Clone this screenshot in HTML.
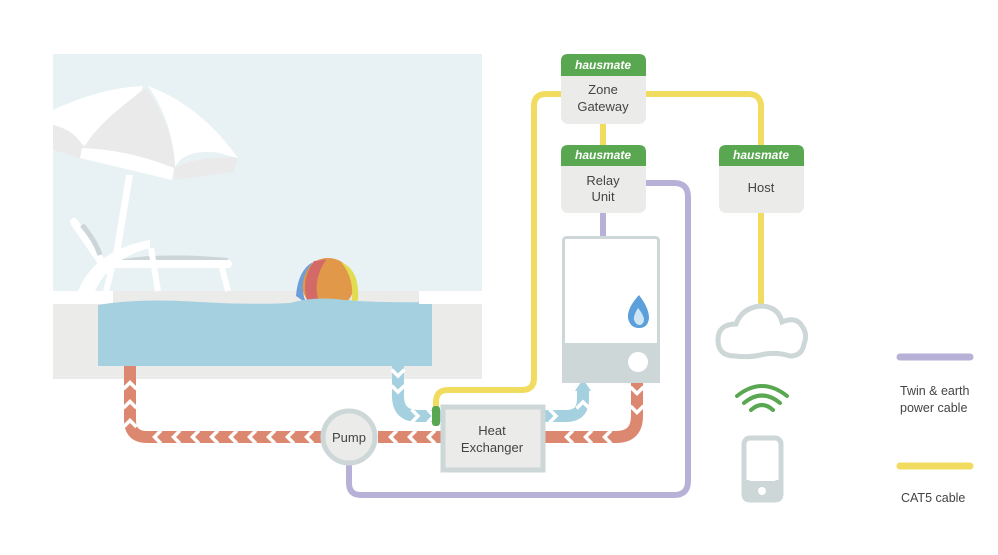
<!DOCTYPE html>
<html><head><meta charset="utf-8"><style>
html,body{margin:0;padding:0;background:#fff;}
svg{display:block;font-family:"Liberation Sans","DejaVu Sans",sans-serif;}
</style></head><body>
<svg id="s" width="998" height="555" viewBox="0 0 998 555" xmlns="http://www.w3.org/2000/svg">
<rect x="53" y="54" width="429" height="237" fill="#e8f2f5"/>
<rect x="53" y="304" width="429" height="75" fill="#ebebea"/>
<rect x="113" y="291" width="306" height="13" fill="#ebebea"/>
<!-- umbrella -->
<path d="M53 110 Q100 88 143 86 L120 150 L53 140Z" fill="#fff"/>
<path d="M143 88 L84 148 Q75 130 53 125 L53 150 L80 158Z" fill="#eaeaea"/>
<path d="M148 86 Q200 105 238 158 L215 152 Q180 150 174 170 Q175 125 148 86Z" fill="#fff"/>
<path d="M146 88 Q175 130 175 168 L130 160 Q90 152 84 148 Q95 125 146 88Z" fill="#eaeaea"/>
<path d="M82 148 Q130 150 174 168 L172 180 L80 158Z" fill="#fff"/>
<path d="M174 168 Q200 155 238 158 L234 172 L175 180Z" fill="#eaeaea"/>
<path d="M126 175 L133 175 L119 260 L112 260Z" fill="#fff"/>
<!-- chair -->
<path d="M74 222 L107 270" stroke="#fff" stroke-width="8" stroke-linecap="round"/>
<path d="M82 225 Q95 240 100 255" stroke="#ccd6d8" stroke-width="5" fill="none"/>
<path d="M118 260 Q160 252 228 258 L228 262 L118 262Z" fill="#ccd6d8"/>
<rect x="108" y="260" width="124" height="8" rx="4" fill="#fff"/>
<path d="M78 291 Q95 250 150 240 L150 248 Q110 258 95 291Z" fill="#fff"/>
<path d="M112 268 L106 291 M151 248 L158 291 M222 268 L228 291" stroke="#fff" stroke-width="6"/>
<!-- ball -->
<circle cx="328" cy="284" r="26" fill="#e19848"/>
<path d="M314 261 Q300 280 308 303 L318 303 Q312 280 326 260Z" fill="#d36a68"/>
<path d="M313 262 Q297 280 306 303 L296 296 Q298 270 313 262Z" fill="#6d9ed6"/>
<path d="M341 262 Q356 280 351 304 L358 300 Q360 270 341 262Z" fill="#e2dc52"/>
<path d="M326 259 Q312 280 319 303 L308 303 Q300 280 314 262Z" fill="#d36a68"/>
<path d="M98 305 Q140 298 200 302 Q250 305 290 303 Q315 296 345 300 Q380 303 432 302 L432 366 L98 366Z" fill="#a4d0df"/>
<rect x="53" y="291" width="20" height="13" fill="#fff"/>
<rect x="419" y="291" width="63" height="13" fill="#fff"/>

<path d="M646 183 L674 183 Q688 183 688 197 L688 481 Q688 495 674 495 L361 495 Q349 495 349 483 L349 462" stroke="#b7b1d8" stroke-width="6" fill="none"/>
<line x1="603" y1="213" x2="603" y2="237" stroke="#b7b1d8" stroke-width="6"/>
<path d="M436 410 L436 402 Q436 390 448 390 L522 390 Q534 390 534 378 L534 106 Q534 94 546 94 L562 94" stroke="#f1dc60" stroke-width="6" fill="none"/>
<path d="M646 94 L748 94 Q761 94 761 107 L761 306" stroke="#f1dc60" stroke-width="6" fill="none"/>
<line x1="603" y1="124" x2="603" y2="146" stroke="#f1dc60" stroke-width="6"/>

<g id="pipes" fill="none" stroke-width="12">
<path d="M130 366 L130 420 Q130 437 147 437 L322 437" stroke="#dc8870"/>
<path d="M378 437 L441 437" stroke="#dc8870"/>
<path d="M545 437 L616 437 Q637 437 637 416 L637 382" stroke="#dc8870"/>
<path d="M398 366 L398 396 Q398 416 418 416 L441 416" stroke="#a4d0df"/>
<path d="M545 416 L566 416 Q583 416 583 399 L583 388" stroke="#a4d0df"/>
</g>
<g id="chev" stroke="#fff" stroke-width="3.5" fill="none"></g>
<polygon points="575,391 583,379 591,391" fill="#a4d0df"/>

<rect x="432" y="406" width="8" height="20" rx="3" fill="#5aa752"/>

<circle cx="349" cy="437" r="26" fill="#ebebea" stroke="#cdd7d7" stroke-width="5"/>
<text x="349" y="442" font-size="13" text-anchor="middle" fill="#444">Pump</text>
<rect x="443" y="407" width="100" height="63" fill="#ebebea" stroke="#cdd7d7" stroke-width="5"/>
<text x="492" y="435" font-size="13" text-anchor="middle" fill="#444">Heat</text>
<text x="492" y="452" font-size="13" text-anchor="middle" fill="#444">Exchanger</text>

<rect x="563.5" y="237.5" width="95" height="144" rx="3" fill="#fff" stroke="#cdd7d7" stroke-width="3"/>
<rect x="562" y="343" width="98" height="40" fill="#cdd7d7"/>
<circle cx="638" cy="362" r="10" fill="#fff"/>
<path d="M639 295 Q627 308 628 318 Q630 328 639 328 Q648 328 649 318 Q649 308 639 295Z" fill="#5b9fdb"/>
<path d="M638 308 Q633 316 634 320 Q636 325 640 325 Q644 324 644 319 Q643 314 638 308Z" fill="#cfe6f5"/>

<g font-size="13" fill="#444" text-anchor="middle">
<rect x="561" y="54" width="85" height="70" rx="7" fill="#ebebea"/>
<path d="M561 76 L561 61 Q561 54 568 54 L639 54 Q646 54 646 61 L646 76Z" fill="#5aa752"/>
<text x="603" y="69" font-size="12" font-weight="bold" font-style="italic" fill="#fff">hausmate</text>
<text x="603" y="94">Zone</text><text x="603" y="111">Gateway</text>
<rect x="561" y="145" width="85" height="68" rx="7" fill="#ebebea"/>
<path d="M561 166 L561 152 Q561 145 568 145 L639 145 Q646 145 646 152 L646 166Z" fill="#5aa752"/>
<text x="603" y="159" font-size="12" font-weight="bold" font-style="italic" fill="#fff">hausmate</text>
<text x="603" y="185">Relay</text><text x="603" y="201">Unit</text>
<rect x="719" y="145" width="85" height="68" rx="7" fill="#ebebea"/>
<path d="M719 166 L719 152 Q719 145 726 145 L797 145 Q804 145 804 152 L804 166Z" fill="#5aa752"/>
<text x="761" y="159" font-size="12" font-weight="bold" font-style="italic" fill="#fff">hausmate</text>
<text x="761" y="192">Host</text>
</g>

<path d="M735 356 Q718 356 718 340 Q718 324 736 324 Q742 308 760 306 Q778 306 782 322 Q796 316 802 326 Q808 334 804 344 Q802 356 790 356 Q778 352 765 354 Q750 358 735 356Z" fill="#fff" stroke="#cdd7d7" stroke-width="5"/>
<g stroke="#5aa752" stroke-width="4" fill="none" stroke-linecap="round">
<path d="M737 396 Q762 376 787 396"/>
<path d="M744 403 Q762 388 780 403"/>
<path d="M751 410 Q762 400 773 410"/>
</g>
<rect x="744" y="438" width="37" height="62" rx="6" fill="#fff" stroke="#cdd7d7" stroke-width="5"/>
<rect x="742" y="480" width="41" height="22" rx="6" fill="#cdd7d7"/>
<rect x="749" y="443" width="27" height="38" rx="2" fill="#fff"/>
<circle cx="762" cy="491" r="4" fill="#fff"/>

<line x1="900" y1="357" x2="970" y2="357" stroke="#b7b1d8" stroke-width="7" stroke-linecap="round"/>
<text x="900" y="395" font-size="12.5" fill="#444">Twin &amp; earth</text>
<text x="900" y="412" font-size="12.5" fill="#444">power cable</text>
<line x1="900" y1="466" x2="970" y2="466" stroke="#f1dc60" stroke-width="7" stroke-linecap="round"/>
<text x="901" y="502" font-size="12.5" fill="#444">CAT5 cable</text>
</svg>
<script>
(function(){
var g=document.getElementById('chev'),ns='http://www.w3.org/2000/svg';
function ch(x,y,dx,dy){var px=-dy,py=dx,s=6.5;
var p=document.createElementNS(ns,'polyline');
p.setAttribute('points',(x-dx*s+px*s)+','+(y-dy*s+py*s)+' '+x+','+y+' '+(x-dx*s-px*s)+','+(y-dy*s-py*s));
g.appendChild(p);}
function seg(x1,y1,x2,y2,step){var L=Math.hypot(x2-x1,y2-y1),dx=(x2-x1)/L,dy=(y2-y1)/L;
for(var t=step/2;t<L;t+=step)ch(x1+dx*t,y1+dy*t,dx,dy);}
seg(130,430,130,368,19);
seg(316,437,140,437,19);
seg(438,437,380,437,19);
seg(614,437,548,437,19);
seg(637,384,637,420,19);
seg(398,368,398,400,16);
seg(410,416,440,416,16);
seg(548,416,572,416,16);
seg(583,410,583,392,16);
})();
</script>
</body></html>
